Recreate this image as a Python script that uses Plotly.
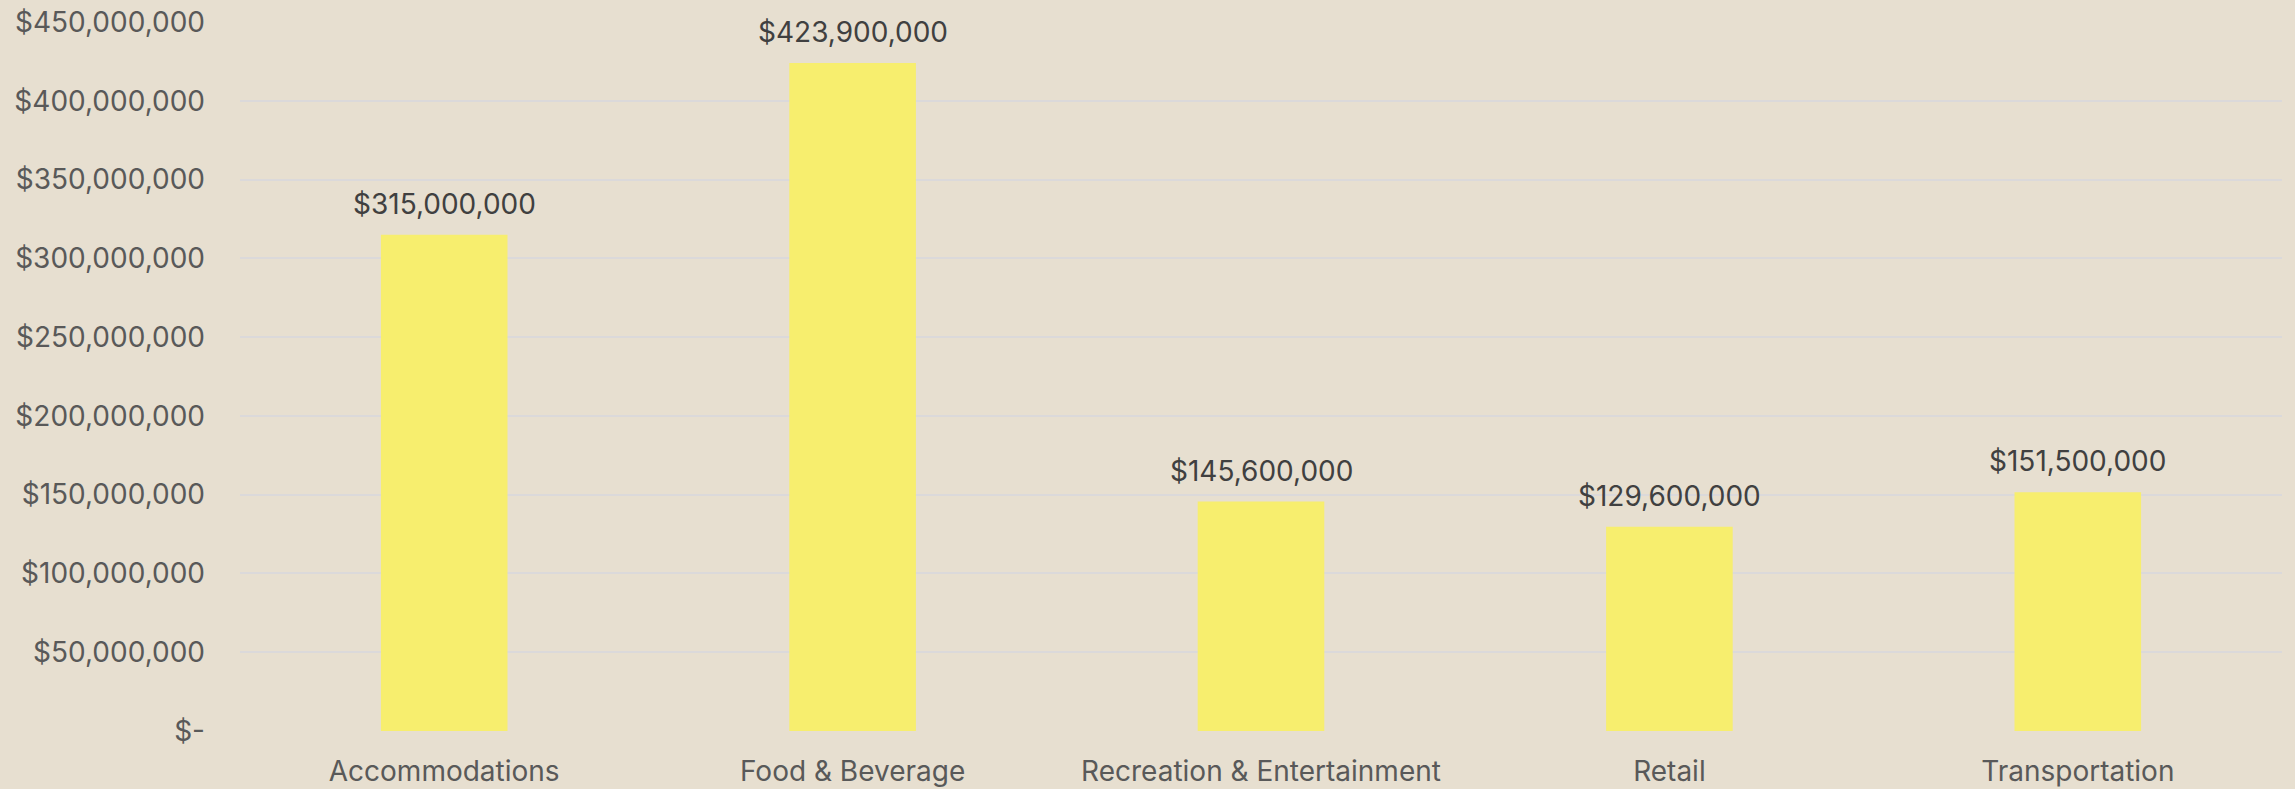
import plotly.graph_objects as go

categories = ["Accommodations", "Food & Beverage", "Recreation & Entertainment", "Retail", "Transportation"]
values = [315000000, 423900000, 145600000, 129600000, 151500000]
tick_values = [0, 50000000, 100000000, 150000000, 200000000, 250000000, 300000000, 350000000, 400000000, 450000000]
tick_labels = ["$-", "$50,000,000", "$100,000,000", "$150,000,000", "$200,000,000", "$250,000,000",
               "$300,000,000", "$350,000,000", "$400,000,000", "$450,000,000"]
value_labels = ["${:,.0f}".format(v) for v in values]

BG = "#E7DFD0"
FONT = "Inter"

fig = go.Figure()
fig.add_trace(go.Bar(
    x=categories, y=values,
    marker=dict(color="#F7EE6E", line=dict(width=0)),
    width=0.31,
    hoverinfo="skip",
))

for c, v, t in zip(categories, values, value_labels):
    fig.add_annotation(x=c, y=v, text=t, showarrow=False, yanchor="bottom",
                       yshift=12, font=dict(family=FONT, size=28, color="#404040"))

fig.update_layout(
    width=2295, height=789,
    margin=dict(l=240, r=13, t=22, b=58),
    paper_bgcolor=BG, plot_bgcolor=BG,
    showlegend=False,
)
fig.update_xaxes(
    showgrid=False, showline=False, zeroline=False, automargin=False,
    tickfont=dict(family=FONT, size=28, color="#595959"),
    ticklabelstandoff=21,
)
fig.update_yaxes(
    range=[0, 450000000], automargin=False,
    tickvals=tick_values, ticktext=tick_labels,
    showgrid=True, gridcolor="#DBD9DA", gridwidth=2,
    zeroline=False, showline=False,
    tickfont=dict(family=FONT, size=28, color="#595959"),
    ticklabelstandoff=34,
)

fig.write_html("out.html")
